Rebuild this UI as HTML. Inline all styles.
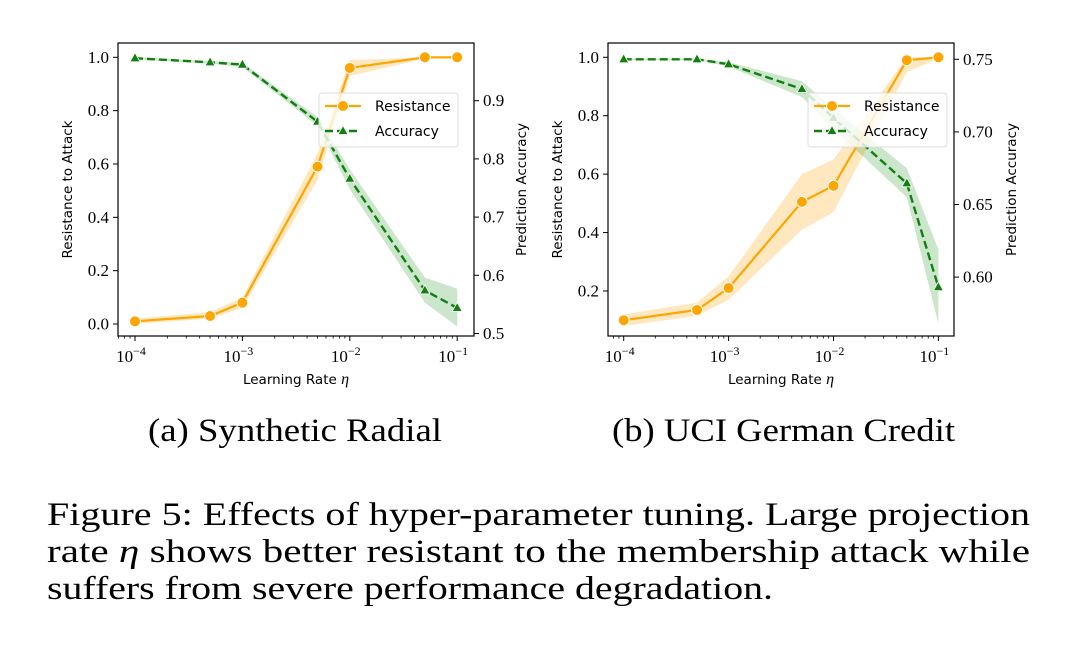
<!DOCTYPE html>
<html><head><meta charset="utf-8">
<style>
html,body{margin:0;padding:0;background:#fff;}
svg{display:block;}
.tick{font-family:"Liberation Serif","Times New Roman",Times,serif;font-size:17px;fill:#000;}
.lab{font-family:"DejaVu Sans","Liberation Sans",sans-serif;font-size:13.5px;fill:#000;}
.leg{font-family:"DejaVu Sans","Liberation Sans",sans-serif;font-size:14px;fill:#000;}
.cap{font-family:"Liberation Serif","Times New Roman",Times,serif;font-size:33px;fill:#000;}
</style></head>
<body>
<svg id="fig" width="1080" height="655" viewBox="0 0 1080 655">
<text class="cap" x="148" y="441" textLength="294" lengthAdjust="spacingAndGlyphs">(a) Synthetic Radial</text>
<text class="cap" x="612" y="441" textLength="343" lengthAdjust="spacingAndGlyphs">(b) UCI German Credit</text>
<text class="cap" x="47" y="525" textLength="983" lengthAdjust="spacingAndGlyphs">Figure 5: Effects of hyper-parameter tuning. Large projection</text>
<text class="cap" x="47" y="562" textLength="983" lengthAdjust="spacingAndGlyphs">rate <tspan font-style="italic">η</tspan> shows better resistant to the membership attack while</text>
<text class="cap" x="47" y="599" textLength="726" lengthAdjust="spacingAndGlyphs">suffers from severe performance degradation.</text>
</svg>
<script>
// shared categories
const lrs = [1e-4, 5e-4, 1e-3, 5e-3, 1e-2, 5e-2, 1e-1];
// chart A data
const resA = [0.01, 0.03, 0.08, 0.59, 0.96, 1.0, 1.0];
const resALo = [0.0, 0.02, 0.06, 0.54, 0.93, 0.995, 0.995];
const resAHi = [0.02, 0.045, 0.10, 0.64, 0.99, 1.0, 1.0];
const accA = [0.973, 0.966, 0.962, 0.864, 0.766, 0.574, 0.544];
const accALo = [0.971, 0.964, 0.958, 0.857, 0.748, 0.553, 0.512];
const accAHi = [0.975, 0.968, 0.965, 0.872, 0.782, 0.596, 0.577];
const leftTicksA = [0.0, 0.2, 0.4, 0.6, 0.8, 1.0];
const rightTicksA = [0.5, 0.6, 0.7, 0.8, 0.9];
// chart B data
const resB = [0.10, 0.135, 0.21, 0.505, 0.56, 0.99, 1.0];
const resBLo = [0.08, 0.115, 0.17, 0.41, 0.47, 0.95, 0.995];
const resBHi = [0.12, 0.16, 0.25, 0.60, 0.65, 1.0, 1.0];
const accB = [0.750, 0.750, 0.7466, 0.7295, 0.7096, 0.6646, 0.5931];
const accBLo = [0.7495, 0.7495, 0.745, 0.724, 0.702, 0.655, 0.568];
const accBHi = [0.7505, 0.7505, 0.748, 0.735, 0.716, 0.675, 0.619];
const leftTicksB = [0.2, 0.4, 0.6, 0.8, 1.0];
const rightTicksB = [0.60, 0.65, 0.70, 0.75];

const NS = "http://www.w3.org/2000/svg";
const svg = document.getElementById('fig');
function mk(tag, attrs, parent){
  const e = document.createElementNS(NS, tag);
  for (const k in attrs) e.setAttribute(k, attrs[k]);
  (parent||svg).appendChild(e);
  return e;
}
function drawChart(cfg){
  const g = mk('g', {});
  
  
  const xs = v => cfg.x0 + (Math.log10(v) + 4) * cfg.dec;
  const yl = v => cfg.l1 + (1 - v) * cfg.lscale;
  const yr = v => cfg.rRefY + (cfg.rRef - v) * cfg.rscale;
  function band(lo, hi, sc, color, nm){
    let d = 'M' + lrs.map((l,i)=>xs(l)+','+sc(hi[i])).join('L');
    d += 'L' + lrs.map((l,i)=>xs(l)+','+sc(lo[i])).reverse().join('L') + 'Z';
    const p = mk('path', {d:d, fill:color, 'fill-opacity':0.25, stroke:'none'}, g);
    
    
  }
  band(cfg.resLo, cfg.resHi, yl, '#ffa500', 'resistance-band');
  band(cfg.accLo, cfg.accHi, yr, '#2e9a2e', 'accuracy-band');
  const rl = mk('polyline', {points: lrs.map((l,i)=>xs(l)+','+yl(cfg.res[i])).join(' '), fill:'none', stroke:'#ffa500', 'stroke-width':2.2}, g);
  
  
  lrs.forEach((l,i)=>{
    const c = mk('circle', {cx:xs(l), cy:yl(cfg.res[i]), r:5.5, fill:'#ffa500', stroke:'#fff', 'stroke-width':1}, g);
    
    
  });
  const al = mk('polyline', {points: lrs.map((l,i)=>xs(l)+','+yr(cfg.acc[i])).join(' '), fill:'none', stroke:'#118011', 'stroke-width':2.4, 'stroke-dasharray':'8,4'}, g);
  
  
  lrs.forEach((l,i)=>{
    const x = xs(l), y = yr(cfg.acc[i]);
    const t = mk('path', {d:`M${x},${y-5.5}L${x+5},${y+3.5}L${x-5},${y+3.5}Z`, fill:'#118011', stroke:'#fff', 'stroke-width':0.8}, g);
    
    
  });
  const fr = mk('rect', {x:cfg.bx0, y:cfg.by0, width:cfg.bx1-cfg.bx0, height:cfg.by1-cfg.by0, fill:'none', stroke:'#000', 'stroke-width':1.2}, g);
  
  
  for (let e=-4; e<=-1; e++){
    const x = xs(Math.pow(10,e));
    mk('line', {x1:x, x2:x, y1:cfg.by1, y2:cfg.by1+5, stroke:'#000', 'stroke-width':1}, g);
    const t = mk('text', {x:x-4, y:cfg.by1+26, 'text-anchor':'middle', class:'tick'}, g);
    
    
    t.innerHTML = '10<tspan dy="-7" font-size="12">−' + (-e) + '</tspan>';
  }
  for (let e=-5; e<=-1; e++){
    for (let m=2; m<=9; m++){
      const v = m*Math.pow(10,e), x = xs(v);
      if (x < cfg.bx0 || x > cfg.bx1) continue;
      mk('line', {x1:x, x2:x, y1:cfg.by1, y2:cfg.by1+2.5, stroke:'#000', 'stroke-width':0.8}, g);
    }
  }
  cfg.lt.forEach(v=>{
    const y = yl(v);
    mk('line', {x1:cfg.bx0-5, x2:cfg.bx0, y1:y, y2:y, stroke:'#000'}, g);
    const t = mk('text', {x:cfg.bx0-9, y:y+5.5, 'text-anchor':'end', class:'tick'}, g);
    
    
    t.textContent = v.toFixed(1);
  });
  cfg.rt.forEach(v=>{
    const y = yr(v);
    mk('line', {x1:cfg.bx1, x2:cfg.bx1+5, y1:y, y2:y, stroke:'#000'}, g);
    const t = mk('text', {x:cfg.bx1+9, y:y+5.5, 'text-anchor':'start', class:'tick'}, g);
    
    
    t.textContent = v.toFixed(cfg.rdec);
  });
  const cy = (cfg.by0+cfg.by1)/2;
  const xl = mk('text', {x:(cfg.bx0+cfg.bx1)/2, y:cfg.by1+48, 'text-anchor':'middle', class:'lab'}, g);
  
  
  xl.innerHTML = 'Learning Rate <tspan font-family="Liberation Serif" font-style="italic" font-size="16">η</tspan>';
  const ylab = mk('text', {x:0, y:0, 'text-anchor':'middle', class:'lab', transform:`translate(${cfg.ylx},${cy}) rotate(-90)`}, g);
  
  
  ylab.textContent = 'Resistance to Attack';
  const yr2 = mk('text', {x:0, y:0, 'text-anchor':'middle', class:'lab', transform:`translate(${cfg.yrx},${cy}) rotate(-90)`}, g);
  
  
  yr2.textContent = 'Prediction Accuracy';
  const lg = mk('g', {}, g);
  
  
  const L = cfg.legX, T = 93;
  mk('rect', {x:L, y:T, width:139, height:54, rx:3, fill:'#fff', 'fill-opacity':0.8, stroke:'#ddd'}, lg);
  mk('line', {x1:L+6, x2:L+42, y1:T+13, y2:T+13, stroke:'#ffa500', 'stroke-width':2.2}, lg);
  mk('circle', {cx:L+24, cy:T+13, r:5.5, fill:'#ffa500', stroke:'#fff'}, lg);
  const t1 = mk('text', {x:L+56, y:T+18, class:'leg'}, lg);
  
  
  t1.textContent = 'Resistance';
  mk('line', {x1:L+6, x2:L+42, y1:T+38, y2:T+38, stroke:'#118011', 'stroke-width':2.4, 'stroke-dasharray':'8,4'}, lg);
  mk('path', {d:`M${L+24},${T+32.5}L${L+29},${T+41.5}L${L+19},${T+41.5}Z`, fill:'#118011', stroke:'#fff', 'stroke-width':0.8}, lg);
  const t2 = mk('text', {x:L+56, y:T+43, class:'leg'}, lg);
  
  
  t2.textContent = 'Accuracy';
}
drawChart({name:'chart-synthetic-radial', x0:135, dec:107.4, bx0:118, bx1:474, by0:43, by1:336,
  l1:57.3, lscale:266.7, rRef:0.9, rRefY:100.7, rscale:582, rdec:1,
  res:resA, resLo:resALo, resHi:resAHi, acc:accA, accLo:accALo, accHi:accAHi,
  lt:leftTicksA, rt:rightTicksA, ylx:72, yrx:526, legX:319});
drawChart({name:'chart-uci-german-credit', x0:623.7, dec:104.9, bx0:608, bx1:954, by0:43, by1:336,
  l1:57.3, lscale:292.1, rRef:0.75, rRefY:59.3, rscale:1452, rdec:2,
  res:resB, resLo:resBLo, resHi:resBHi, acc:accB, accLo:accBLo, accHi:accBHi,
  lt:leftTicksB, rt:rightTicksB, ylx:562, yrx:1016, legX:808});
</script>
</body></html>
